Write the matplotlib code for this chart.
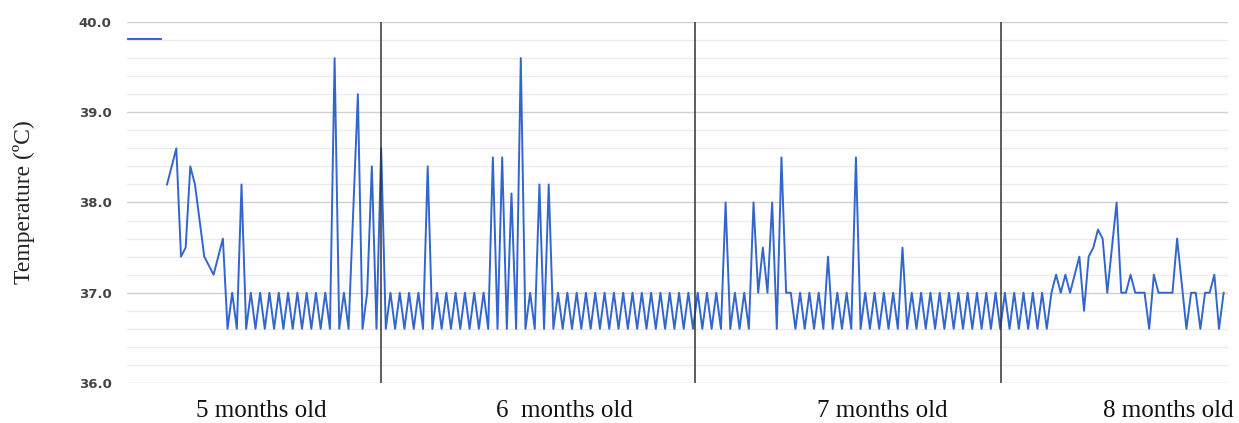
import matplotlib.pyplot as plt
import numpy as np

# Temperature readings (ºC), one list per age block
temps_5m = [38.2, 38.4, 38.6, 37.4, 37.5, 38.4, 38.2, 37.8, 37.4, 37.3,
            37.2, 37.4, 37.6, 36.6, 37.0, 36.6, 38.2, 36.6,
            37.0, 36.6, 37.0, 36.6, 37.0, 36.6, 37.0, 36.6, 37.0, 36.6,
            37.0, 36.6, 37.0, 36.6, 37.0, 36.6, 37.0, 36.6,
            39.6, 36.6, 37.0, 36.6, 37.9, 39.2, 36.6, 37.0, 38.4, 36.6]

temps_6m = [38.6, 36.6,
            37.0, 36.6, 37.0, 36.6, 37.0, 36.6, 37.0, 36.6,
            38.4, 36.6,
            37.0, 36.6, 37.0, 36.6, 37.0, 36.6, 37.0, 36.6, 37.0, 36.6, 37.0,
            36.6, 38.5, 36.6, 38.5, 36.6, 38.1, 36.6, 39.6, 36.6, 37.0,
            36.6, 38.2, 36.6, 38.2, 36.6,
            37.0, 36.6, 37.0, 36.6, 37.0, 36.6, 37.0, 36.6, 37.0, 36.6,
            37.0, 36.6, 37.0, 36.6, 37.0, 36.6, 37.0, 36.6, 37.0, 36.6,
            37.0, 36.6, 37.0, 36.6, 37.0, 36.6, 37.0, 36.6, 37.0, 36.6]

temps_7m = [37.0, 36.6, 37.0, 36.6, 37.0, 36.6,
            38.0, 36.6, 37.0, 36.6, 37.0, 36.6, 38.0, 37.0, 37.5, 37.0,
            38.0, 36.6, 38.5, 37.0, 37.0, 36.6, 37.0, 36.6, 37.0, 36.6,
            37.0, 36.6, 37.4, 36.6, 37.0, 36.6, 37.0, 36.6, 38.5, 36.6,
            37.0, 36.6, 37.0, 36.6, 37.0, 36.6, 37.0, 36.6,
            37.5, 36.6,
            37.0, 36.6, 37.0, 36.6, 37.0, 36.6, 37.0, 36.6, 37.0, 36.6,
            37.0, 36.6, 37.0, 36.6, 37.0, 36.6, 37.0, 36.6, 37.0, 36.6]

temps_8m = [37.0, 36.6, 37.0, 36.6, 37.0, 36.6, 37.0, 36.6, 37.0, 36.6,
            37.0, 37.2, 37.0, 37.2, 37.0, 37.2, 37.4, 36.8, 37.4, 37.5,
            37.7, 37.6, 37.0, 37.5, 38.0, 37.0, 37.0, 37.2, 37.0, 37.0,
            37.0, 36.6, 37.2, 37.0, 37.0, 37.0, 37.0, 37.6, 37.1, 36.6,
            37.0, 37.0, 36.6, 37.0, 37.0, 37.2, 36.6, 37.0]

# Where each age block starts (reading index) and its label
month_breaks = [46.0, 113.4, 179.1]
month_centers = [20.2, 85.3, 153.6, 215.2]
month_labels = ["5 months old", "6  months old", "7 months old", "8 months old"]

temps = temps_5m + temps_6m + temps_7m + temps_8m
x = np.arange(len(temps))

fig = plt.figure(figsize=(12.39, 4.23), dpi=100)
ax = fig.add_axes([0.1025, 0.0946, 0.8885, 0.8534])

# Main line
line, = ax.plot(x, temps, color="#3366cc", linewidth=1.4)

# Vertical separators between months
for b in month_breaks:
    ax.axvline(b, color="#333333", linewidth=1.1)

ax.set_xlim(-8.6, 227.9)
ax.set_ylim(36.0, 40.0)

# Grid: major every 1.0, minor every 0.2
ax.set_yticks([36, 37, 38, 39, 40])
ax.set_yticks(np.arange(36.0, 40.01, 0.2), minor=True)
ax.yaxis.grid(True, which="major", color="#d0d0d0", linewidth=1.0)
ax.yaxis.grid(True, which="minor", color="#ececec", linewidth=1.0)
ax.set_axisbelow(True)
ax.set_yticklabels(["36.0", "37.0", "38.0", "39.0", "40.0"],
                   fontsize=9.5, fontweight="bold", color="#444444",
                   family="DejaVu Sans")
ax.tick_params(axis="y", which="both", length=0, pad=11)

# Month labels under each block
ax.set_xticks(month_centers)
ax.set_xticklabels(month_labels, fontsize=18, family="Liberation Serif", color="#111111")
ax.tick_params(axis="x", length=0, pad=12)

for s in ax.spines.values():
    s.set_visible(False)

ax.set_ylabel("Temperature (ºC)", fontsize=17, family="Liberation Serif", color="#222222")
ax.yaxis.set_label_coords(-0.084, 0.5)

# Legend key without text
ax.legend([line], [""], loc="upper left", bbox_to_anchor=(-0.007, 0.993),
          frameon=False, handlelength=2.4, borderaxespad=0.2, fontsize=10)

fig.savefig("out.png", dpi=100)
